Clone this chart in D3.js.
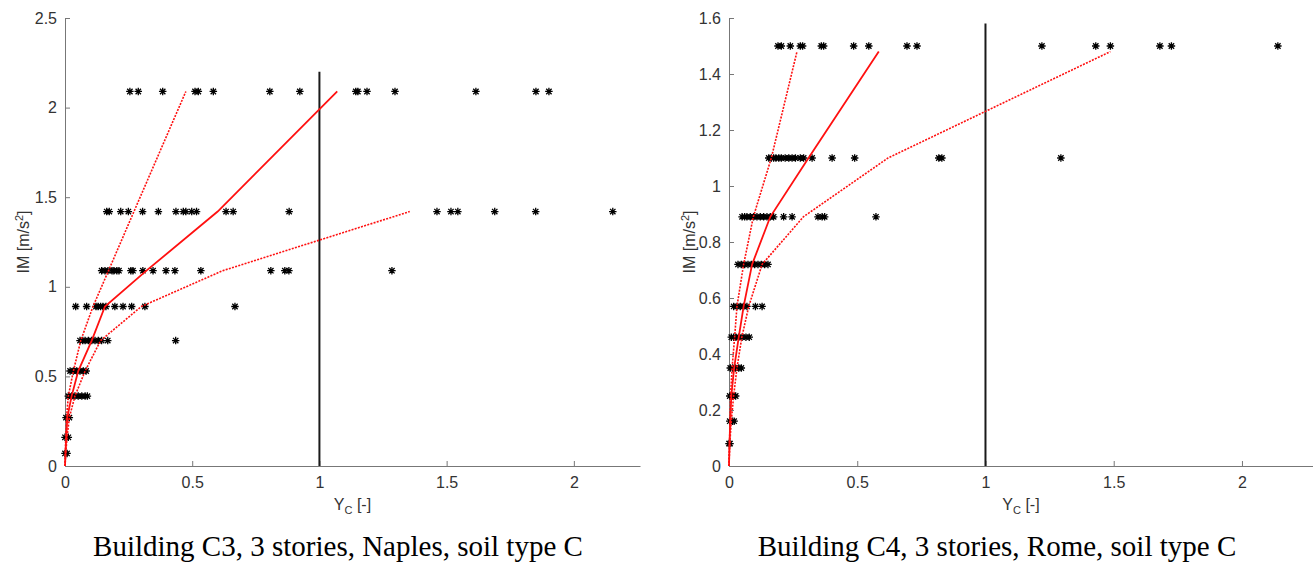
<!DOCTYPE html>
<html>
<head>
<meta charset="utf-8">
<script src="https://cdn.jsdelivr.net/npm/d3@7"></script>
<style>
  body { margin: 0; background: #fff; }
  svg { display: block; }
  .axis text { font-family: "Liberation Sans", Arial, sans-serif; font-size: 16px; fill: #333; }
  .axis path, .axis line { stroke: #777; }
  .lbl { font-family: "Liberation Sans", Arial, sans-serif; font-size: 16px; fill: #333; }
  .caption { font-family: "Liberation Serif", "Times New Roman", serif; font-size: 29px; fill: #000; }
</style>
</head>
<body>
<svg width="1313" height="567"></svg>
<script>
(function (d3) {
    'use strict';

    // ---- left panel: Building C3, Naples ----
    var leftLevels = [0.07, 0.16, 0.27, 0.39, 0.53, 0.70, 0.89, 1.09, 1.42, 2.09];
    var leftPoints = [
        [0, 0.008],
        [0, 0.013],
        [0.004, 0.017],
        [0.013, 0.026, 0.039, 0.052, 0.066, 0.079, 0.088],
        [0.02, 0.033, 0.046, 0.059, 0.072, 0.083],
        [0.059, 0.07, 0.079, 0.092, 0.105, 0.118, 0.131, 0.144, 0.168, 0.435],
        [0.042, 0.085, 0.122, 0.13, 0.14, 0.149, 0.161, 0.196, 0.228, 0.262, 0.314, 0.668],
        [0.144, 0.157, 0.169, 0.185, 0.192, 0.204, 0.212, 0.259, 0.267, 0.306, 0.346, 0.397, 0.432, 0.534, 0.809, 0.864, 0.88, 1.285],
        [0.164, 0.174, 0.219, 0.249, 0.305, 0.367, 0.436, 0.465, 0.475, 0.498, 0.517, 0.633, 0.661, 0.881, 1.462, 1.517, 1.544, 1.689, 1.85, 2.153],
        [0.255, 0.288, 0.384, 0.511, 0.524, 0.583, 0.805, 0.923, 1.143, 1.151, 1.187, 1.297, 1.615, 1.851, 1.902]
    ];
    var leftCurveIM = [0, 0.07, 0.16, 0.27, 0.39, 0.53, 0.70, 0.89, 1.09, 1.42, 2.09];
    var leftMedian = [0, 0.002, 0.005, 0.009, 0.026, 0.052, 0.105, 0.157, 0.32, 0.60, 1.07];
    var leftUpper = [0, 0.001, 0.003, 0.006, 0.013, 0.033, 0.062, 0.11, 0.171, 0.271, 0.475];
    var leftLower = [0, 0.003, 0.008, 0.017, 0.039, 0.079, 0.14, 0.30, 0.62, 1.355];
    var leftYTicks = [0, 0.5, 1, 1.5, 2, 2.5];

    // ---- right panel: Building C4, Rome ----
    var rightLevels = [0.08, 0.16, 0.25, 0.35, 0.46, 0.57, 0.72, 0.89, 1.10, 1.50];
    var rightPoints = [
        [0, 0.004],
        [0.003, 0.013, 0.02],
        [0.003, 0.013, 0.026],
        [0.005, 0.014, 0.025, 0.038, 0.048],
        [0.009, 0.018, 0.027, 0.038, 0.051, 0.066, 0.079],
        [0.018, 0.031, 0.044, 0.057, 0.07, 0.103, 0.129],
        [0.035, 0.048, 0.061, 0.074, 0.087, 0.1, 0.113, 0.126, 0.139, 0.152],
        [0.051, 0.061, 0.07, 0.083, 0.096, 0.109, 0.122, 0.135, 0.148, 0.161, 0.174, 0.213, 0.246, 0.347, 0.363, 0.373, 0.573],
        [0.155, 0.165, 0.174, 0.183, 0.194, 0.204, 0.219, 0.233, 0.246, 0.259, 0.278, 0.291, 0.324, 0.402, 0.49, 0.818, 0.83, 1.294],
        [0.191, 0.204, 0.239, 0.278, 0.287, 0.36, 0.369, 0.486, 0.545, 0.694, 0.733, 1.22, 1.43, 1.487, 1.68, 1.725, 2.14]
    ];
    var rightCurveIM = [0, 0.08, 0.16, 0.25, 0.35, 0.46, 0.57, 0.72, 0.89, 1.10, 1.48];
    var rightMedian = [0, 0.002, 0.005, 0.009, 0.02, 0.038, 0.057, 0.09, 0.161, 0.31, 0.584];
    var rightUpper = [0, 0.002, 0.004, 0.006, 0.012, 0.022, 0.031, 0.057, 0.095, 0.165, 0.265];
    var rightLower = [0, 0.003, 0.009, 0.018, 0.031, 0.05, 0.077, 0.129, 0.29, 0.62, 1.487];
    var rightYTicks = [0, 0.2, 0.4, 0.6, 0.8, 1, 1.2, 1.4, 1.6];

    var xTicks = [0, 0.5, 1, 1.5, 2];

    var svg = d3.select('svg');

    // matlab style '*' marker
    var asterisk = {
        draw: function (ctx, size) {
            var r = Math.sqrt(size) / 2, q = r * 0.72;
            ctx.moveTo(-r, 0); ctx.lineTo(r, 0);
            ctx.moveTo(0, -r); ctx.lineTo(0, r);
            ctx.moveTo(-q, -q); ctx.lineTo(q, q);
            ctx.moveTo(-q, q); ctx.lineTo(q, -q);
        }
    };

    function panel(opt) {
        var x = d3.scaleLinear().domain([0, opt.xMax]).range([opt.left, opt.right]),
            y = d3.scaleLinear().domain([0, opt.yMax]).range([opt.bottom, opt.top]);

        var g = svg.append('g');

        g.append('g')
            .attr('class', 'axis')
            .attr('transform', 'translate(0,' + opt.bottom + ')')
            .call(d3.axisBottom(x).tickValues(xTicks).tickFormat(d3.format('')).tickSizeInner(-5).tickSizeOuter(0).tickPadding(11));

        g.append('g')
            .attr('class', 'axis')
            .attr('transform', 'translate(' + opt.left + ',0)')
            .call(d3.axisLeft(y).tickValues(opt.yTicks).tickFormat(d3.format('')).tickSizeInner(-5).tickSizeOuter(0).tickPadding(8));

        // threshold line at Yc = 1
        g.append('line')
            .attr('x1', x(1)).attr('x2', x(1))
            .attr('y1', y(0)).attr('y2', y(opt.vTop))
            .attr('stroke', '#1a1a1a').attr('stroke-width', 2);

        var pts = [];
        opt.levels.forEach(function (im, i) {
            opt.points[i].forEach(function (v) { pts.push([v, im]); });
        });

        g.selectAll('.pt')
            .data(pts)
            .enter().append('path')
            .attr('class', 'pt')
            .attr('transform', function (d) { return 'translate(' + x(d[0]) + ',' + y(d[1]) + ')'; })
            .attr('d', d3.symbol().type(asterisk).size(56))
            .attr('fill', 'none')
            .attr('stroke', '#000')
            .attr('stroke-width', 1.3);

        var line = d3.line()
            .x(function (d) { return x(d[0]); })
            .y(function (d) { return y(d[1]); });

        function curve(vals, dashed) {
            var data = vals.map(function (v, i) { return [v, opt.curveIM[i]]; });
            g.append('path')
                .datum(data)
                .attr('d', line)
                .attr('fill', 'none')
                .attr('stroke', '#ff1010')
                .attr('stroke-width', dashed ? 1.6 : 1.8)
                .attr('stroke-dasharray', dashed ? '2,1.3' : null);
        }
        curve(opt.upper, true);
        curve(opt.lower, true);
        curve(opt.median, false);

        // y label, centred on the axis
        var yl = g.append('text')
            .attr('class', 'lbl')
            .attr('text-anchor', 'middle')
            .attr('transform', 'translate(' + opt.yLabelX + ',' + (opt.top + opt.bottom) / 2 + ') rotate(-90)');
        yl.append('tspan').text('IM [m/s');
        yl.append('tspan').attr('font-size', '11px').attr('dy', '-6').text('2');
        yl.append('tspan').attr('dy', '6').text(']');

        // x label, centred on the axis
        var xl = g.append('text')
            .attr('class', 'lbl')
            .attr('text-anchor', 'middle')
            .attr('x', (opt.left + opt.right) / 2)
            .attr('y', 510);
        xl.append('tspan').text('Y');
        xl.append('tspan').attr('font-size', '11px').attr('dy', '4').text('C');
        xl.append('tspan').attr('dy', '-4').text(' [-]');

        svg.append('text')
            .attr('class', 'caption')
            .attr('text-anchor', 'middle')
            .attr('x', opt.captionX)
            .attr('y', 556)
            .text(opt.caption);
    }

    panel({
        left: 65, right: 640, top: 18, bottom: 466,
        xMax: 2.26, yMax: 2.5, vTop: 2.2,
        yTicks: leftYTicks, levels: leftLevels, points: leftPoints,
        curveIM: leftCurveIM, median: leftMedian, upper: leftUpper, lower: leftLower,
        yLabelX: 29, captionX: 338,
        caption: 'Building C3, 3 stories, Naples, soil type C'
    });

    panel({
        left: 729, right: 1313, top: 18, bottom: 466,
        xMax: 2.277, yMax: 1.6, vTop: 1.58,
        yTicks: rightYTicks, levels: rightLevels, points: rightPoints,
        curveIM: rightCurveIM, median: rightMedian, upper: rightUpper, lower: rightLower,
        yLabelX: 695, captionX: 997,
        caption: 'Building C4, 3 stories, Rome, soil type C'
    });
})(window.d3);
</script>
</body>
</html>
